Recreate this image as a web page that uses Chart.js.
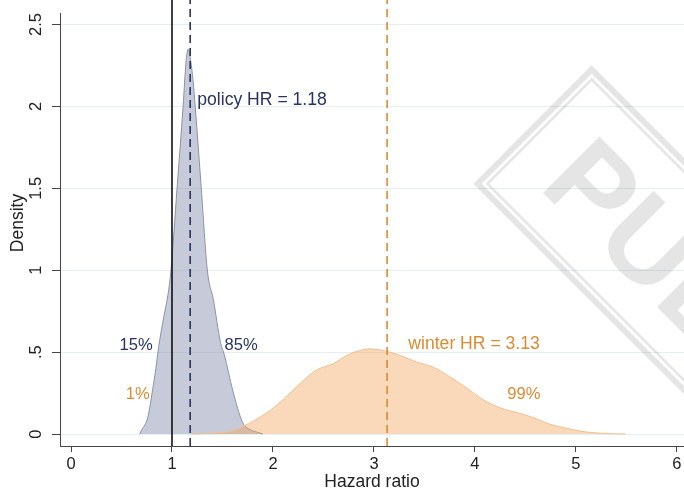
<!DOCTYPE html>
<html><head><meta charset="utf-8">
<script src="https://cdn.jsdelivr.net/npm/chart.js@4/dist/chart.umd.min.js"></script>
<style>html,body{margin:0;padding:0;background:#fff}canvas{display:block}</style>
</head><body>
<canvas id="c" width="684" height="493"></canvas>
<script>
// ---- data ----
const policyX = [0.68,0.70,0.76,0.80,0.84,0.87,0.92,0.96,0.99,1.05,1.11,1.14,1.16,1.18,1.21,1.23,1.29,1.35,1.41,1.48,1.52,1.60,1.70,1.78,1.84,1.90];
const policyY = [0,0.025,0.10,0.24,0.40,0.54,0.72,0.85,1.0,1.5,2.0,2.28,2.35,2.30,2.15,2.0,1.5,1.0,0.82,0.56,0.48,0.27,0.07,0.025,0.012,0];
const winterX = [1.20,1.44,1.60,1.70,1.94,2.10,2.27,2.43,2.60,2.73,2.86,2.96,3.09,3.26,3.42,3.58,3.75,3.92,4.08,4.25,4.42,4.58,4.74,4.91,5.07,5.24,5.49];
const winterY = [0,0.006,0.02,0.045,0.13,0.21,0.31,0.39,0.43,0.48,0.51,0.52,0.51,0.48,0.44,0.41,0.35,0.28,0.21,0.16,0.13,0.10,0.06,0.035,0.015,0.005,0];
const refLineX = [1, 1.18, 3.13];
const xTickValues = [0,1,2,3,4,5,6];
const yTickValues = [0,0.5,1,1.5,2,2.5];
const labelTexts = ['policy HR = 1.18','15%','85%','1%','winter HR = 3.13','99%'];

// ---- scale ranges & styling ----
const X_MIN = -0.109, X_MAX = 6.07, Y_MIN = -0.073, Y_MAX = 2.65;
const NAVY = '#28335f', ORANGE = '#de8a30';
const labelPlacement = [
  {x:1.25, y:2.04, color:NAVY, align:'left', size:17.6},
  {x:0.81, y:0.54, color:NAVY, align:'right', size:16.6},
  {x:1.52, y:0.54, color:NAVY, align:'left', size:16.6},
  {x:0.78, y:0.24, color:ORANGE, align:'right', size:16.6},
  {x:3.34, y:0.55, color:ORANGE, align:'left', size:17.6},
  {x:4.32, y:0.24, color:ORANGE, align:'left', size:16.6}
];
const FONT = '"Liberation Sans", Arial, Helvetica, sans-serif';

const toPts = (xs, ys) => xs.map((x,i)=>({x, y:ys[i]}));

const refStyles = [
  {color:'#111111', dash:[]},
  {color:NAVY, dash:[8,5]},
  {color:ORANGE, dash:[8,5]}
];
const refDatasets = refLineX.map((x,i)=>({
  type:'line', data:[{x, y:Y_MIN},{x, y:Y_MAX}],
  borderColor: refStyles[i].color, borderDash: refStyles[i].dash,
  borderWidth:1.6, pointRadius:0, fill:false, order:0
}));

const watermark = {
  id:'watermark',
  afterDatasetsDraw(chart){
    const ctx = chart.ctx;
    ctx.save();
    ctx.translate(532.5,124.5);
    ctx.rotate(Math.PI/4);
    ctx.strokeStyle='rgba(0,0,0,0.10)';
    ctx.lineWidth=6;
    ctx.strokeRect(3,-80.7,700,161.4);
    ctx.lineWidth=2.6;
    ctx.strokeRect(10,-73.7,700,147.4);
    ctx.fillStyle='rgba(0,0,0,0.10)';
    ctx.font='bold 116px ' + FONT;
    ctx.textBaseline='alphabetic';
    ctx.textAlign='left';
    ctx.fillText('PUBLISHED',48,41);
    ctx.restore();
  }
};

const textLabels = {
  id:'textLabels',
  afterDatasetsDraw(chart){
    const ctx = chart.ctx, xs = chart.scales.x, ys = chart.scales.y;
    ctx.save();
    ctx.textBaseline='middle';
    labelTexts.forEach((t,i)=>{
      const p = labelPlacement[i];
      ctx.font = p.size + 'px ' + FONT;
      ctx.fillStyle = p.color;
      ctx.textAlign = p.align;
      ctx.fillText(t, xs.getPixelForValue(p.x), ys.getPixelForValue(p.y));
    });
    ctx.restore();
  }
};

const yAxisLine = {
  id:'yAxisLine',
  afterDraw(chart){
    const ctx = chart.ctx, ys = chart.scales.y, a = chart.chartArea;
    ctx.save();
    ctx.strokeStyle='#444';
    ctx.lineWidth=1;
    ctx.beginPath();
    ctx.moveTo(a.left+0.5, ys.getPixelForValue(2.57));
    ctx.lineTo(a.left+0.5, a.bottom);
    ctx.stroke();
    ctx.restore();
  }
};

new Chart(document.getElementById('c'), {
  type:'line',
  data:{datasets:[
    ...refDatasets,
    {data:toPts(policyX,policyY), borderColor:'#8a92a8', backgroundColor:'rgba(130,140,170,0.45)',
     borderWidth:1, pointRadius:0, fill:'origin', cubicInterpolationMode:'monotone', order:2},
    {data:toPts(winterX,winterY), borderColor:'#f0bf8e', backgroundColor:'rgba(240,160,80,0.40)',
     borderWidth:1, pointRadius:0, fill:'origin', cubicInterpolationMode:'monotone', order:1}
  ]},
  options:{
    responsive:false, animation:false, devicePixelRatio:1,
    layout:{padding:0},
    plugins:{legend:{display:false}, tooltip:{enabled:false}},
    scales:{
      x:{type:'linear', min:X_MIN, max:X_MAX,
        afterBuildTicks:s=>{s.ticks = xTickValues.map(v=>({value:v}));},
        afterFit:s=>{s.height=47; s.paddingLeft=0; s.paddingRight=0;},
        grid:{drawOnChartArea:false, drawTicks:true, tickLength:6, tickColor:'#444'},
        border:{display:true, color:'#444', width:1},
        ticks:{font:{family:FONT, size:16.5}, color:'#222', padding:3, maxRotation:0,
          callback:v=>String(v)},
        title:{display:true, text:'Hazard ratio', font:{family:FONT, size:17.5}, color:'#222', padding:{top:0,bottom:0}}
      },
      y:{type:'linear', min:Y_MIN, max:Y_MAX,
        afterBuildTicks:s=>{s.ticks = yTickValues.map(v=>({value:v}));},
        afterFit:s=>{s.width=60; s.paddingTop=0; s.paddingBottom=0;},
        grid:{color:'#e5eef0', lineWidth:1, tickLength:8, tickColor:'#444'},
        border:{display:false},
        ticks:{font:{family:FONT, size:16.5}, color:'#222', padding:4, minRotation:90, maxRotation:90, crossAlign:'center',
          callback:v=> v===0 ? '0' : String(v).replace(/^0\./,'.')},
        title:{display:true, text:'Density', font:{family:FONT, size:17.5}, color:'#222', padding:{top:8,bottom:0}}
      }
    }
  },
  plugins:[watermark, textLabels, yAxisLine]
});
</script>
</body></html>
